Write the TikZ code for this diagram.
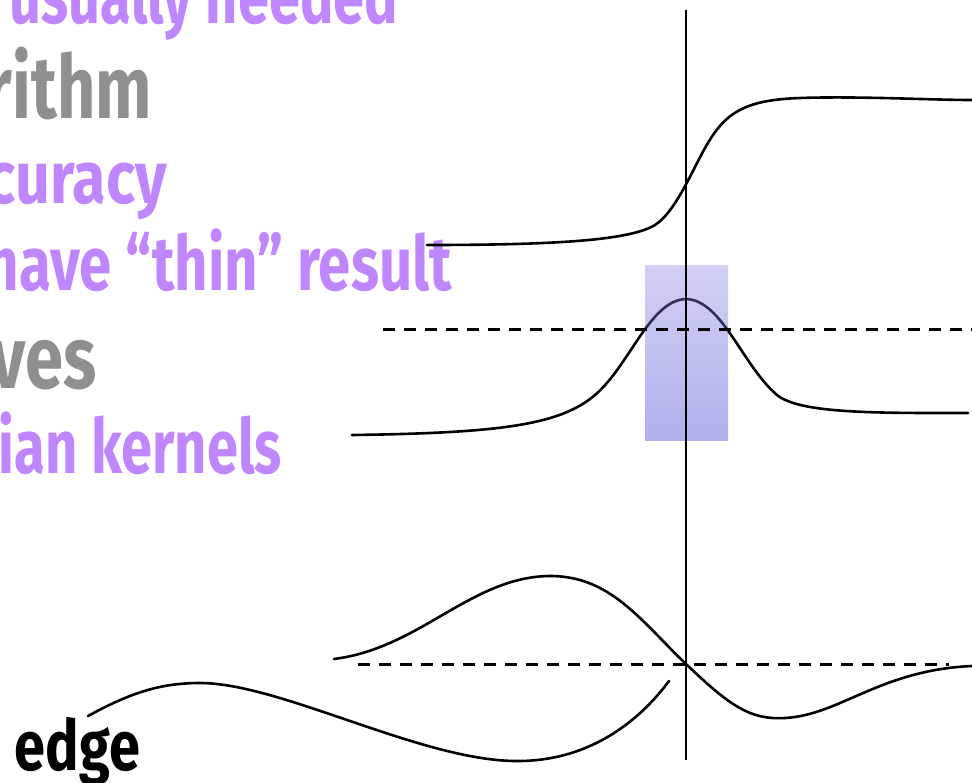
\documentclass[tikz,border=0pt]{standalone}
\usepackage{fontspec}
\setmainfont{Fira Sans}
\usepackage{graphicx}
\definecolor{lav}{RGB}{191,134,255}
\definecolor{gry}{RGB}{143,143,143}
\definecolor{boxtop}{RGB}{138,138,227}
\definecolor{boxbot}{RGB}{57,57,207}
\newcommand{\fitw}[3]{\resizebox{#1pt}{\height}{\fontsize{#2}{#2}\selectfont\bfseries #3}}
\begin{document}
\begin{tikzpicture}[x=1pt,y=-1pt,
  curve/.style={line width=2.6pt, line join=round, line cap=round},
  axisline/.style={line width=2.2pt},
  dashline/.style={line width=3pt, dash pattern=on 12pt off 9pt},
  lbl/.style={anchor=base east, inner sep=0pt, outer sep=0pt}]
\useasboundingbox (0,0) rectangle (972,782);
% texts
\node[lbl, text=lav] (t1) at (398,23) {\fitw{388}{76}{usually needed}};
\node[lbl, text=gry] (t2) at (152,118) {\fitw{166}{88}{rithm}};
\node[lbl, text=lav] (t3) at (167,203) {\fitw{180}{74}{curacy}};
\node[lbl, text=lav] (t4) at (452,290) {\fitw{466}{76}{have “thin” result}};
\node[lbl, text=gry] (t5) at (97,388) {\fitw{106}{88}{ves}};
\node[lbl, text=lav] (t6) at (282,473) {\fitw{283}{76}{ian kernels}};
\node[lbl, text=black] (t7) at (140,770) {\fitw{125}{70}{edge}};
% curves
\draw[curve] (427,245) .. controls (560,245) and (630,240) .. (655,225)
  .. controls (675,212) and (690,175) .. (705,148)
  .. controls (725,112) and (745,100) .. (800,98)
  .. controls (860,96) and (930,100) .. (972,100);
\draw[curve] (352,435) .. controls (500,433) and (560,425) .. (595,395)
  .. controls (630,365) and (650,300) .. (686,299)
  .. controls (722,300) and (742,365) .. (777,395)
  .. controls (800,414) and (880,413) .. (968,413);
\draw[curve] (334,659) .. controls (420,648) and (470,578) .. (548,576)
  .. controls (610,575) and (640,620) .. (686,664)
  .. controls (730,706) and (750,720) .. (785,718)
  .. controls (840,715) and (880,670) .. (972,666);
\draw[curve] (88,716) .. controls (130,693) and (160,683) .. (200,683)
  .. controls (280,683) and (420,760) .. (515,761)
  .. controls (590,762) and (640,720) .. (669,681);
% shaded box
\shade[top color=boxtop, bottom color=boxbot, fill opacity=0.4] (645,265) rectangle (728,440);
% dashed baselines
\coordinate (d1a) at (383,329); \coordinate (d1b) at (972,329);
\coordinate (d2a) at (358,664); \coordinate (d2b) at (949,664);
\draw[dashline] (d1a) -- (d1b);
\draw[dashline] (d2a) -- (d2b);
% vertical line
\coordinate (vt) at (686,10); \coordinate (vb) at (686,760);
\draw[axisline] (vt) -- (vb);
\end{tikzpicture}
\end{document}
